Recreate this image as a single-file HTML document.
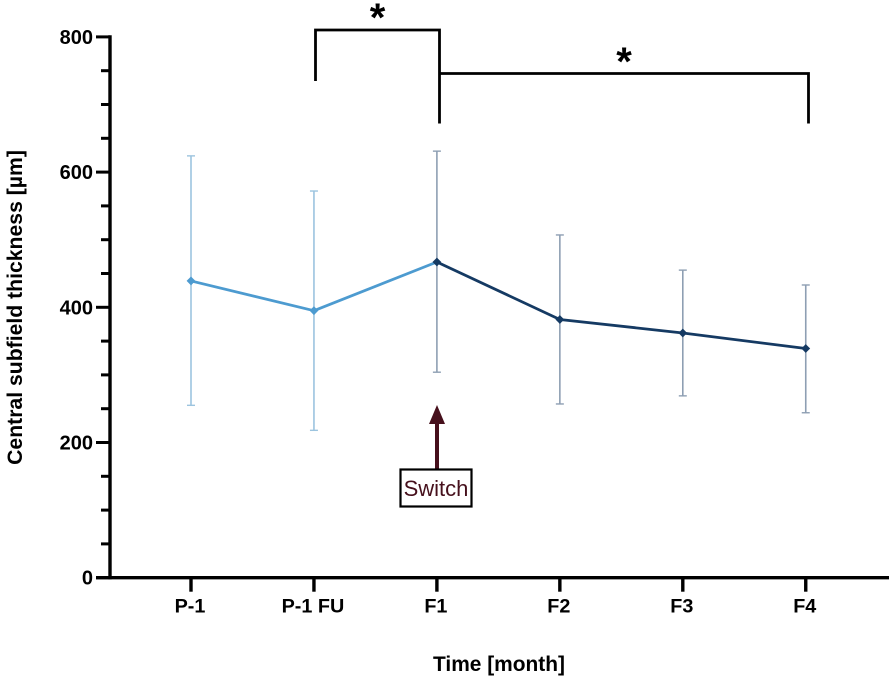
<!DOCTYPE html>
<html>
<head>
<meta charset="utf-8">
<style>
html,body{margin:0;padding:0;background:#fff;}
svg{display:block;}
text{font-family:"Liberation Sans",sans-serif;}
</style>
</head>
<body>
<svg id="chart" xmlns="http://www.w3.org/2000/svg" width="891" height="680" viewBox="0 0 891 680">
<rect width="891" height="680" fill="#ffffff"/>
<g id="series"></g>
<g id="axes"></g>
<text transform="translate(22,307.5) rotate(-90)" text-anchor="middle" font-size="21.2" font-weight="700" fill="#000">Central subfield thickness [µm]</text>
<text x="499" y="671" text-anchor="middle" font-size="20.9" font-weight="700" fill="#000">Time [month]</text>
<path d="M315.5 81V30H439.5V123.5" fill="none" stroke="#000" stroke-width="2.8"/>
<path d="M439.5 73.5H808.5V123.5" fill="none" stroke="#000" stroke-width="2.8"/>
<text x="377.5" y="31" text-anchor="middle" font-size="40" font-weight="700" fill="#000">*</text>
<text x="624" y="75" text-anchor="middle" font-size="40" font-weight="700" fill="#000">*</text>
<line x1="437" y1="470" x2="437" y2="420" stroke="#46101c" stroke-width="4"/>
<polygon points="437,405 429,424 445,424" fill="#46101c"/>
<rect x="400.5" y="469.5" width="71" height="37" fill="#fff" stroke="#000" stroke-width="2.2"/>
<text x="436" y="496" text-anchor="middle" font-size="22" fill="#46101c">Switch</text>
</svg>
<script>
const categories = ["P-1", "P-1 FU", "F1", "F2", "F3", "F4"];
const means = [439, 395, 467, 382, 362, 339];
const upperErrors = [624, 572, 631, 507, 455, 433];
const lowerErrors = [255, 218, 304, 257, 269, 244];
const segmentEndIndex = 2;
const yMajorTicks = [0, 200, 400, 600, 800];
const yMinorTicks = [50, 100, 150, 250, 300, 350, 450, 500, 550, 650, 700, 750];

const NS = "http://www.w3.org/2000/svg";
const X0 = 191, XSTEP = 122.95, Y0 = 577.7, YSCALE = 0.676;
const LIGHT = "#4d9bd0", DARK = "#153a63", LIGHTERR = "#9cc4df", DARKERR = "#8e9fb3";
function xAt(i){ return X0 + XSTEP * i; }
function yAt(v){ return Y0 - YSCALE * v; }
function make(parent, tag, attrs){
  const el = document.createElementNS(NS, tag);
  for (const k in attrs) el.setAttribute(k, attrs[k]);
  parent.appendChild(el);
  return el;
}
const series = document.getElementById("series");
const axes = document.getElementById("axes");

categories.forEach(function(cat, i){
  const color = i < segmentEndIndex ? LIGHTERR : DARKERR;
  const x = xAt(i), t = yAt(upperErrors[i]), b = yAt(lowerErrors[i]);
  const stem = make(series, "line", {x1:x, x2:x, y1:t, y2:b, stroke:color, "stroke-width":1.6});
  
  
  [t, b].forEach(function(y){
    const cap = make(series, "line", {x1:x-4, x2:x+4, y1:y, y2:y, stroke:color, "stroke-width":1.4});
    
    
  });
});

function drawLine(from, to, color){
  let pts = [];
  for (let i = from; i <= to; i++) pts.push(xAt(i) + "," + yAt(means[i]));
  const line = make(series, "polyline", {points:pts.join(" "), fill:"none", stroke:color, "stroke-width":2.8, "stroke-linejoin":"round"});
  
  
}
drawLine(0, segmentEndIndex, LIGHT);
drawLine(segmentEndIndex, categories.length - 1, DARK);

means.forEach(function(v, i){
  const x = xAt(i), y = yAt(v), r = 4.4;
  const pt = make(series, "polygon", {points:[x,y-r,x+r,y,x,y+r,x-r,y].join(" "), fill: i < segmentEndIndex ? LIGHT : DARK});
  
  
});

const yAxis = make(axes, "line", {x1:110, x2:110, y1:yAt(800)-1.7, y2:Y0+1.7, stroke:"#000", "stroke-width":3.4});


const xAxis = make(axes, "line", {x1:96, x2:889, y1:Y0, y2:Y0, stroke:"#000", "stroke-width":3.4});



yMajorTicks.forEach(function(v){
  const y = yAt(v);
  const tick = make(axes, "line", {x1:96, x2:110, y1:y, y2:y, stroke:"#000", "stroke-width":3});
  
  
  const label = make(axes, "text", {x:93, y:y+7, "text-anchor":"end", "font-size":20, "font-weight":700, fill:"#000"});
  
  
  label.textContent = v;
});
yMinorTicks.forEach(function(v){
  const y = yAt(v);
  const tick = make(axes, "line", {x1:101, x2:110, y1:y, y2:y, stroke:"#000", "stroke-width":3});
  
  
});
categories.forEach(function(cat, i){
  const x = xAt(i);
  const tick = make(axes, "line", {x1:x, x2:x, y1:Y0, y2:Y0+14, stroke:"#000", "stroke-width":3.4});
  
  
  const label = make(axes, "text", {x:x-1, y:612.5, "text-anchor":"middle", "font-size":19.8, "font-weight":700, fill:"#000"});
  
  
  label.textContent = cat;
});
</script>
</body>
</html>
